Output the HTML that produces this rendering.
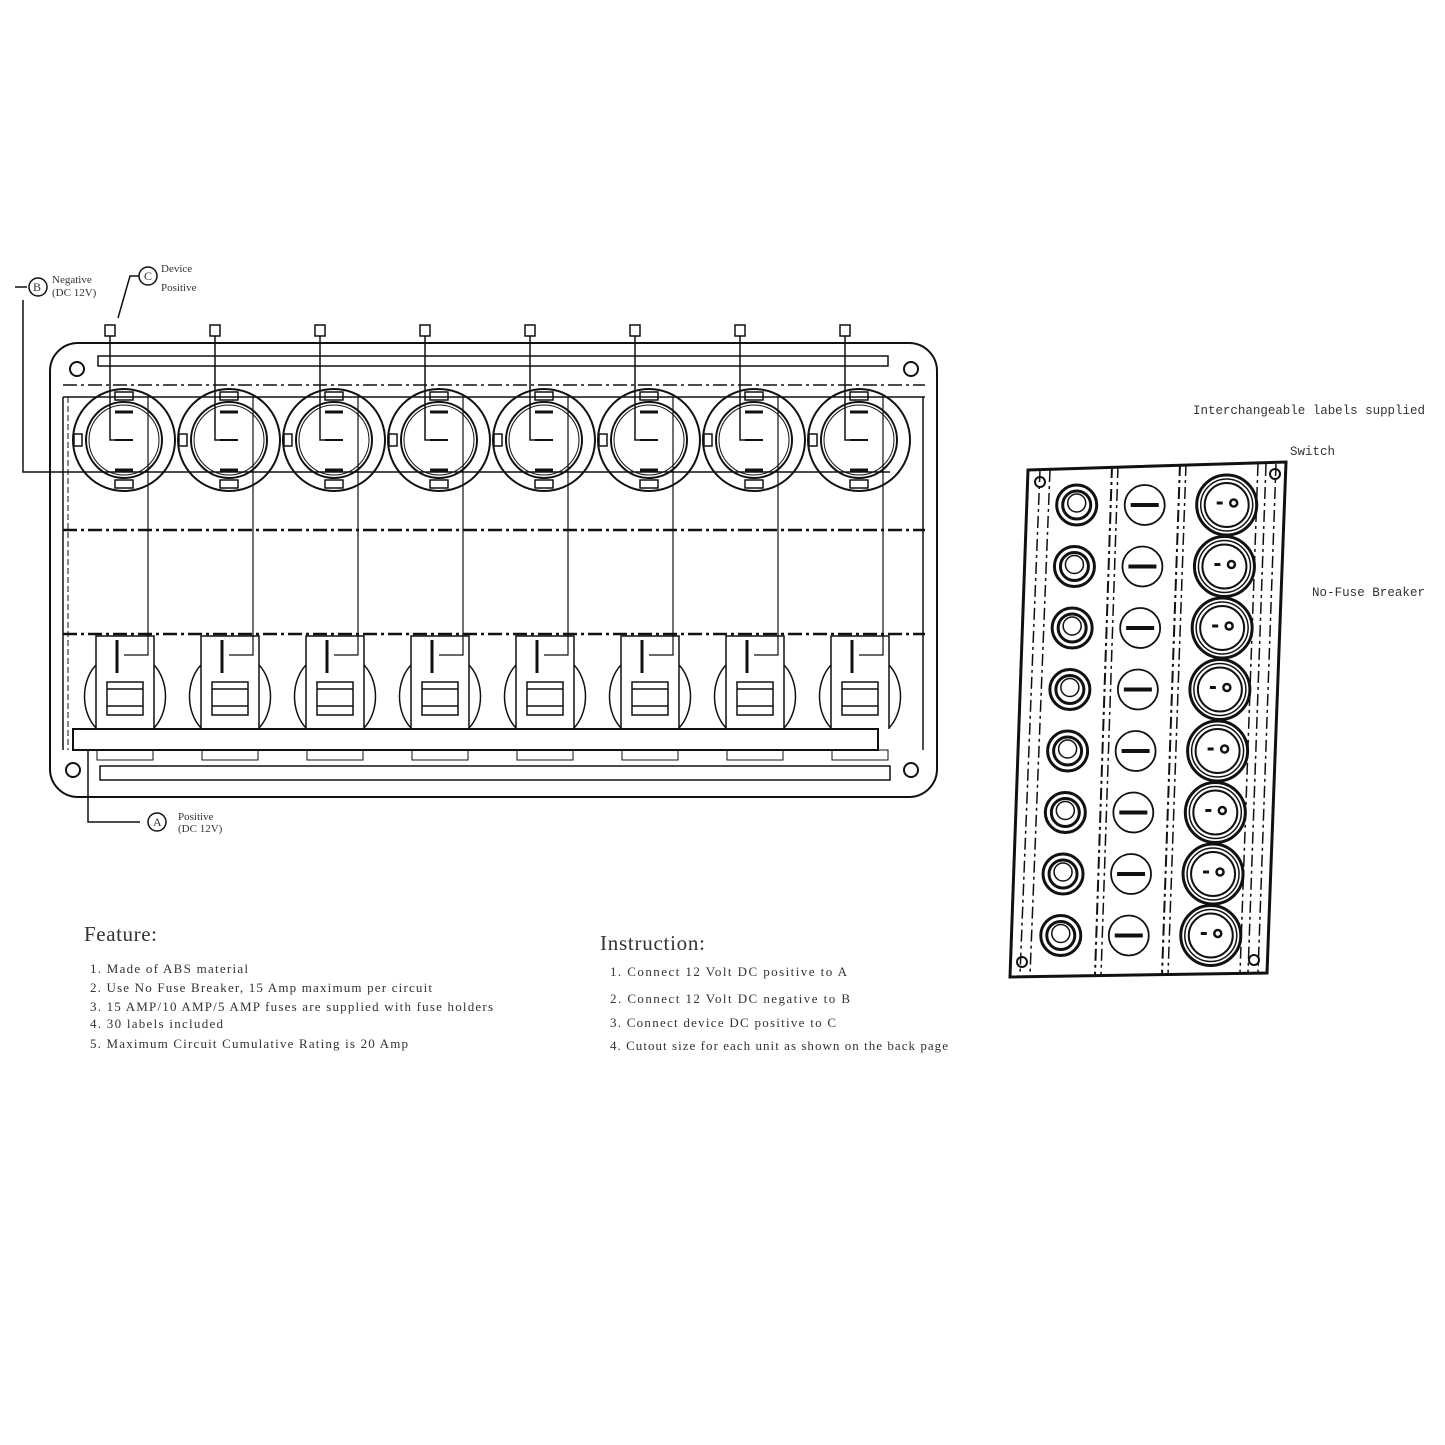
<!DOCTYPE html>
<html><head><meta charset="utf-8"><style>
html,body{margin:0;padding:0;background:#fff;}
svg{display:block}
text{font-family:"Liberation Serif",serif;fill:#333}
text.m{font-family:"Liberation Mono",monospace;}
</style></head><body>
<svg id="s" width="1445" height="1445" viewBox="0 0 1445 1445" xmlns="http://www.w3.org/2000/svg">
<g id="g" fill="none" stroke="#111" stroke-width="2">
<rect x="50" y="343" width="887" height="454" rx="28"/>
<rect x="98" y="356" width="790" height="10" stroke-width="1.5"/>
<line x1="63" y1="385" x2="925" y2="385" stroke-dasharray="14 4 3 4" stroke-width="1.5"/>
<line x1="63" y1="397" x2="925" y2="397" stroke-width="1.5"/>
<line x1="63" y1="397" x2="63" y2="750" stroke-width="1.5"/>
<line x1="68" y1="397" x2="68" y2="750" stroke-width="1" stroke-dasharray="6 3"/>
<line x1="923" y1="397" x2="923" y2="750" stroke-width="1.5"/>
<line x1="63" y1="530" x2="925" y2="530" stroke-dasharray="14 4 3 4" stroke-width="2.5"/>
<line x1="63" y1="634" x2="925" y2="634" stroke-dasharray="14 4 3 4" stroke-width="2.5"/>
<rect x="73" y="729" width="805" height="21" stroke-width="2"/>
<rect x="100" y="766" width="790" height="14" stroke-width="1.5"/>
<circle cx="77" cy="369" r="7"/><circle cx="911" cy="369" r="7"/>
<circle cx="73" cy="770" r="7"/><circle cx="911" cy="770" r="7"/>
<polyline points="23,300 23,472 890,472" stroke-width="1.5"/>
<line x1="15" y1="287" x2="27" y2="287" stroke-width="1.5"/>
<circle cx="38" cy="287" r="9" stroke-width="1.5"/>
<circle cx="148" cy="276" r="9" stroke-width="1.5"/>
<polyline points="139,276 130,276 118,318" stroke-width="1.5"/>
<polyline points="88,750 88,822 140,822" stroke-width="1.5"/>
<circle cx="157" cy="822" r="9" stroke-width="1.5"/>
<polygon points="1028,470 1286,462 1267,973 1010,977" stroke-width="3"/>
<line x1="1040" y1="470" x2="1020" y2="975" stroke-dasharray="12 4 3 4" stroke-width="1.5"/>
<line x1="1050" y1="470" x2="1030" y2="975" stroke-dasharray="12 4 3 4" stroke-width="1.5"/>
<line x1="1112" y1="466" x2="1095" y2="975" stroke-dasharray="12 4 3 4" stroke-width="2"/>
<line x1="1118" y1="466" x2="1101" y2="975" stroke-dasharray="12 4 3 4" stroke-width="1.5"/>
<line x1="1180" y1="464" x2="1162" y2="975" stroke-dasharray="12 4 3 4" stroke-width="2"/>
<line x1="1186" y1="464" x2="1168" y2="975" stroke-dasharray="12 4 3 4" stroke-width="1.5"/>
<line x1="1258" y1="464" x2="1240" y2="973" stroke-dasharray="12 4 3 4" stroke-width="1.5"/>
<line x1="1266" y1="464" x2="1248" y2="973" stroke-dasharray="12 4 3 4" stroke-width="1.5"/>
<line x1="1276" y1="464" x2="1258" y2="973" stroke-dasharray="12 4 3 4" stroke-width="1.5"/>
<circle cx="1040" cy="482" r="5"/><circle cx="1275" cy="474" r="5"/>
<circle cx="1022" cy="962" r="5"/><circle cx="1254" cy="960" r="5"/>
</g>
<g font-size="11">
<text x="52" y="283">Negative</text><text x="52" y="296">(DC 12V)</text>
<text x="161" y="272">Device</text><text x="161" y="291">Positive</text>
<text x="178" y="820">Positive</text><text x="178" y="832">(DC 12V)</text>
<text class="m" x="1193" y="414" font-size="12.5" textLength="232">Interchangeable labels supplied</text>
<text class="m" x="1290" y="455" font-size="12.5" textLength="45">Switch</text>
<text class="m" x="1312" y="596" font-size="12.5" textLength="113">No-Fuse Breaker</text>
</g>
<g fill="#444">
<text x="84" y="941" font-size="21" textLength="73">Feature:</text>
<text x="90" y="973" font-size="13" textLength="158">1. Made of ABS material</text>
<text x="90" y="992" font-size="13" textLength="342">2. Use No Fuse Breaker, 15 Amp maximum per circuit</text>
<text x="90" y="1011" font-size="13" textLength="403">3. 15 AMP/10 AMP/5 AMP fuses are supplied with fuse holders</text>
<text x="90" y="1028" font-size="13" textLength="133">4. 30 labels included</text>
<text x="90" y="1048" font-size="13" textLength="318">5. Maximum Circuit Cumulative Rating is 20 Amp</text>
<text x="600" y="950" font-size="21" textLength="105">Instruction:</text>
<text x="610" y="976" font-size="13" textLength="237">1. Connect 12 Volt DC positive to A</text>
<text x="610" y="1003" font-size="13" textLength="240">2. Connect 12 Volt DC negative to B</text>
<text x="610" y="1027" font-size="13" textLength="226">3. Connect device DC positive to C</text>
<text x="610" y="1050" font-size="13" textLength="338">4. Cutout size for each unit as shown on the back page</text>
</g>
<g font-size="12" fill="#333">
<text x="33" y="291">B</text><text x="144" y="280">C</text><text x="153" y="826">A</text>
</g>
</svg>
<script>
var g=document.getElementById('g'),ns='http://www.w3.org/2000/svg';
function el(t,a){var e=document.createElementNS(ns,t);for(var k in a)e.setAttribute(k,a[k]);g.appendChild(e);return e;}
for(var i=0;i<8;i++){
 var cx=124+i*105, cy=440;
 el('circle',{cx:cx,cy:cy,r:51});
 el('circle',{cx:cx,cy:cy,r:38});
 el('circle',{cx:cx,cy:cy,r:35,'stroke-width':1});
 el('rect',{x:cx-9,y:cy-48,width:18,height:8,'stroke-width':1.5});
 el('rect',{x:cx-9,y:cy+40,width:18,height:8,'stroke-width':1.5});
 el('rect',{x:cx-50,y:cy-6,width:8,height:12,'stroke-width':1.5});
 el('line',{x1:cx-9,y1:cy-28,x2:cx+9,y2:cy-28,'stroke-width':3});
 el('line',{x1:cx-9,y1:cy,x2:cx+9,y2:cy,'stroke-width':2});
 el('line',{x1:cx-9,y1:cy+30,x2:cx+9,y2:cy+30,'stroke-width':3});
 var tx=cx-14;
 el('rect',{x:tx-5,y:325,width:10,height:11,'stroke-width':1.5});
 el('polyline',{points:tx+','+336+' '+tx+','+cy+' '+(cx-3)+','+cy,'stroke-width':1.5});
 var bx=cx+1;
 el('path',{d:'M'+(bx-29)+',665 A30,40 0 0 0 '+(bx-29)+',728','stroke-width':1.5});
 el('path',{d:'M'+(bx+29)+',665 A30,40 0 0 1 '+(bx+29)+',728','stroke-width':1.5});
 el('polyline',{points:(bx-29)+',729 '+(bx-29)+',636 '+(bx+29)+',636 '+(bx+29)+',729','stroke-width':1.5});
 el('rect',{x:bx-18,y:682,width:36,height:33,'stroke-width':1.5});
 el('line',{x1:bx-18,y1:689,x2:bx+18,y2:689,'stroke-width':1.5});
 el('line',{x1:bx-18,y1:706,x2:bx+18,y2:706,'stroke-width':1.5});
 el('line',{x1:bx-8,y1:640,x2:bx-8,y2:673,'stroke-width':3});
 el('rect',{x:bx-28,y:750,width:56,height:10,'stroke-width':1});
 el('polyline',{points:(cx+24)+',397 '+(cx+24)+',655 '+(bx-1)+',655','stroke-width':1.2});
 var ry=505+i*61.5, off=(ry-470)*0.037;
 var kx=1078-off, lx=1146-off, sx=1228-off;
 el('circle',{cx:kx,cy:ry,r:20,'stroke-width':3});
 el('circle',{cx:kx,cy:ry,r:14,'stroke-width':3});
 el('circle',{cx:kx,cy:ry-2,r:9,'stroke-width':1.5});
 el('circle',{cx:lx,cy:ry,r:20,'stroke-width':1.8});
 el('line',{x1:lx-14,y1:ry,x2:lx+14,y2:ry,'stroke-width':4});
 el('circle',{cx:sx,cy:ry,r:30,'stroke-width':3});
 el('circle',{cx:sx,cy:ry,r:26,'stroke-width':1.5});
 el('circle',{cx:sx,cy:ry,r:22,'stroke-width':2});
 el('line',{x1:sx-10,y1:ry-2,x2:sx-4,y2:ry-2,'stroke-width':3});
 el('circle',{cx:sx+7,cy:ry-2,r:3.5,'stroke-width':2.5});
}
</script>
</body></html>
